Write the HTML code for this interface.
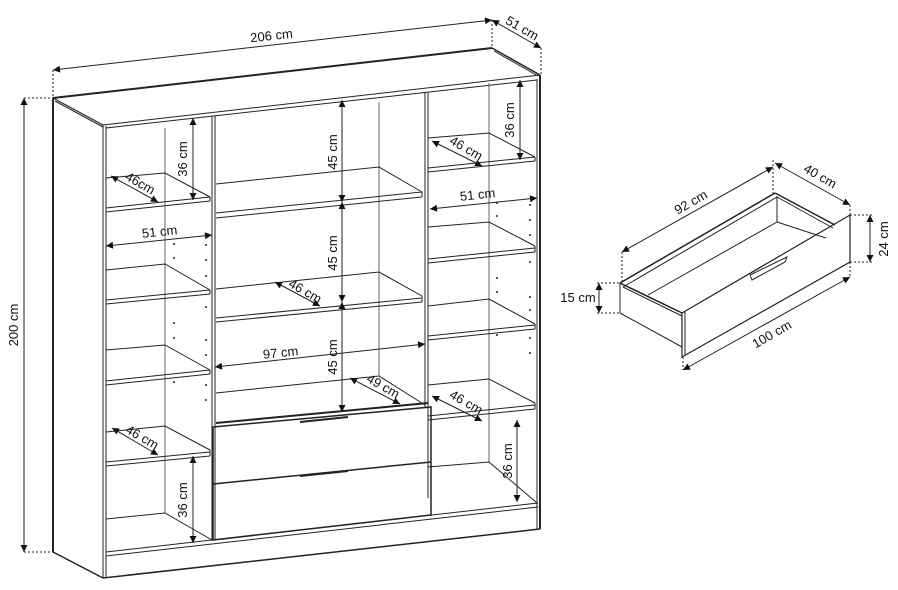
<!DOCTYPE html>
<html><head><meta charset="utf-8"><style>
html,body{margin:0;padding:0;background:#fff;}
svg{display:block;}
text{font-family:"Liberation Sans",sans-serif;font-size:13px;fill:#111;}
</style></head><body>
<svg width="898" height="590" viewBox="0 0 898 590" xmlns="http://www.w3.org/2000/svg">
<defs>
<marker id="a" viewBox="0 0 10 10" refX="10" refY="5" markerWidth="9" markerHeight="7" orient="auto-start-reverse" markerUnits="userSpaceOnUse"><path d="M0,0 L10,5 L0,10 z" fill="#111"/></marker>
</defs>
<g stroke="#222" stroke-width="1" fill="none">
<line x1="53" y1="98" x2="492" y2="48" stroke-width="2"/>
<line x1="492" y1="48" x2="540" y2="75" stroke-width="1.5"/>
<line x1="494" y1="51" x2="538" y2="76"/>
<line x1="53" y1="98" x2="103" y2="125"/>
<line x1="55" y1="101" x2="103" y2="127"/>
<line x1="53" y1="98" x2="53" y2="552" stroke-width="2"/>
<line x1="53" y1="552" x2="103" y2="578" stroke-width="1.5"/>
<line x1="103" y1="125" x2="103" y2="578"/>
<line x1="106" y1="126" x2="106" y2="577"/>
<line x1="103" y1="125" x2="540" y2="75"/>
<line x1="106" y1="128" x2="537" y2="80"/>
<line x1="540" y1="75" x2="540" y2="529" stroke-width="2"/>
<line x1="537" y1="79" x2="537" y2="529"/>
<line x1="103" y1="578" x2="540" y2="529" stroke-width="1.5"/>
<line x1="106" y1="552" x2="538" y2="503"/>
<line x1="106" y1="556" x2="538" y2="507"/>
<line x1="212" y1="116" x2="212" y2="540"/>
<line x1="215" y1="116" x2="215" y2="540"/>
<line x1="425" y1="92" x2="425" y2="407"/>
<line x1="428" y1="92" x2="428" y2="498"/>
<line x1="165" y1="128" x2="165" y2="513" stroke="#666"/>
<line x1="379" y1="102" x2="379" y2="376" stroke="#666"/>
<line x1="489" y1="83" x2="489" y2="462" stroke="#666"/>
<g>
<polyline points="106,178 165,173 210,197"/><line x1="106" y1="208" x2="210" y2="197"/><line x1="106" y1="212" x2="210" y2="201"/><line x1="210" y1="197" x2="210" y2="201"/>
<polyline points="106,270 165,264 210,290"/><line x1="106" y1="300" x2="210" y2="290"/><line x1="106" y1="304" x2="210" y2="294"/><line x1="210" y1="290" x2="210" y2="294"/>
<polyline points="106,350 165,345 210,370"/><line x1="106" y1="381" x2="210" y2="370"/><line x1="106" y1="385" x2="210" y2="374"/><line x1="210" y1="370" x2="210" y2="374"/>
<polyline points="106,432 165,426 210,450"/><line x1="106" y1="462" x2="210" y2="452"/><line x1="106" y1="466" x2="210" y2="456"/><line x1="210" y1="450" x2="210" y2="456"/>
<polyline points="106,519 165,513 212,540"/>
</g>
<g>
<polyline points="428,138 489,133 535,157"/><line x1="428" y1="168" x2="535" y2="157"/><line x1="428" y1="172" x2="535" y2="161"/><line x1="535" y1="157" x2="535" y2="161"/>
<polyline points="428,227 489,222 535,246"/><line x1="428" y1="259" x2="535" y2="248"/><line x1="428" y1="263" x2="535" y2="252"/><line x1="535" y1="246" x2="535" y2="252"/>
<polyline points="428,306 489,299 535,324"/><line x1="428" y1="336" x2="535" y2="325"/><line x1="428" y1="340" x2="535" y2="329"/><line x1="535" y1="324" x2="535" y2="329"/>
<polyline points="428,385 489,379 535,403"/><line x1="428" y1="416" x2="535" y2="405"/><line x1="428" y1="420" x2="535" y2="409"/><line x1="535" y1="403" x2="535" y2="409"/>
<polyline points="428,467 489,462 537,503"/>
</g>
<g>
<polyline points="216,184 379,167 422,192"/><line x1="216" y1="213" x2="422" y2="192"/><line x1="216" y1="218" x2="422" y2="197"/><line x1="422" y1="192" x2="422" y2="197"/>
<polyline points="216,289 379,272 422,296"/><line x1="216" y1="318" x2="422" y2="298"/><line x1="216" y1="322" x2="422" y2="302"/><line x1="422" y1="296" x2="422" y2="302"/>
<polyline points="216,393 379,376 425,405"/>
</g>
<polygon points="213,427 431,407 431,515 213,540" stroke-width="1.5"/>
<line x1="216" y1="423" x2="428" y2="403" stroke-width="2"/>
<line x1="213" y1="484" x2="431" y2="462" stroke-width="1.5"/>
<line x1="300" y1="422" x2="348" y2="417" stroke-width="2"/>
<line x1="300" y1="476" x2="348" y2="471" stroke-width="2"/>
</g>
<g fill="#222">
<circle cx="174" cy="244" r="1"/><circle cx="174" cy="258" r="1"/><circle cx="206" cy="245" r="1"/><circle cx="206" cy="260" r="1"/><circle cx="206" cy="276" r="1"/>
<circle cx="206" cy="307" r="1"/><circle cx="174" cy="323" r="1"/><circle cx="174" cy="338" r="1"/><circle cx="206" cy="340" r="1"/><circle cx="206" cy="355" r="1"/>
<circle cx="174" cy="382" r="1"/><circle cx="206" cy="385" r="1"/><circle cx="206" cy="400" r="1"/>
<circle cx="497" cy="203" r="1"/><circle cx="497" cy="216" r="1"/><circle cx="530" cy="205" r="1"/><circle cx="530" cy="220" r="1"/><circle cx="530" cy="235" r="1"/>
<circle cx="530" cy="262" r="1"/><circle cx="497" cy="278" r="1"/><circle cx="497" cy="292" r="1"/><circle cx="530" cy="297" r="1"/><circle cx="530" cy="310" r="1"/>
<circle cx="497" cy="335" r="1"/><circle cx="530" cy="338" r="1"/><circle cx="530" cy="353" r="1"/>
</g>
<g stroke="#222" stroke-width="1" fill="none">
<line x1="53" y1="70" x2="492" y2="20" marker-start="url(#a)" marker-end="url(#a)"/>
<line x1="492" y1="20" x2="541" y2="48" marker-start="url(#a)" marker-end="url(#a)"/>
<line x1="24" y1="98" x2="24" y2="552" marker-start="url(#a)" marker-end="url(#a)"/>
<line x1="193" y1="118" x2="193" y2="200" marker-start="url(#a)" marker-end="url(#a)"/>
<line x1="111" y1="176" x2="158" y2="202" marker-start="url(#a)" marker-end="url(#a)"/>
<line x1="106" y1="246" x2="212" y2="235" marker-start="url(#a)" marker-end="url(#a)"/>
<line x1="112" y1="428" x2="158" y2="455" marker-start="url(#a)" marker-end="url(#a)"/>
<line x1="193" y1="456" x2="193" y2="543" marker-start="url(#a)" marker-end="url(#a)"/>
<line x1="342" y1="100" x2="342" y2="202" marker-start="url(#a)" marker-end="url(#a)"/>
<line x1="342" y1="202" x2="342" y2="302" marker-start="url(#a)" marker-end="url(#a)"/>
<line x1="342" y1="302" x2="342" y2="412" marker-start="url(#a)" marker-end="url(#a)"/>
<line x1="275" y1="282" x2="320" y2="306" marker-start="url(#a)" marker-end="url(#a)"/>
<line x1="215" y1="367" x2="425" y2="344" marker-start="url(#a)" marker-end="url(#a)"/>
<line x1="350" y1="378" x2="400" y2="404" marker-start="url(#a)" marker-end="url(#a)"/>
<line x1="520" y1="80" x2="520" y2="160" marker-start="url(#a)" marker-end="url(#a)"/>
<line x1="432" y1="141" x2="482" y2="166" marker-start="url(#a)" marker-end="url(#a)"/>
<line x1="430" y1="209" x2="537" y2="198" marker-start="url(#a)" marker-end="url(#a)"/>
<line x1="432" y1="396" x2="482" y2="421" marker-start="url(#a)" marker-end="url(#a)"/>
<line x1="517" y1="420" x2="517" y2="502" marker-start="url(#a)" marker-end="url(#a)"/>
<g stroke-dasharray="2,2">
<line x1="53" y1="70" x2="53" y2="98"/><line x1="492" y1="20" x2="492" y2="48"/><line x1="541" y1="48" x2="541" y2="75"/>
<line x1="24" y1="98" x2="53" y2="98"/><line x1="24" y1="552" x2="53" y2="552"/>
</g>
</g>
<g>
<text x="272" y="40" text-anchor="middle" transform="rotate(-6.5 272 40)">206 cm</text>
<text x="520" y="32" text-anchor="middle" transform="rotate(30 520 32)">51 cm</text>
<text x="18" y="325" text-anchor="middle" transform="rotate(-90 18 325)">200 cm</text>
<text x="187" y="159" text-anchor="middle" transform="rotate(-90 187 159)">36 cm</text>
<text x="138" y="187" text-anchor="middle" transform="rotate(30 138 187)">46cm</text>
<text x="160" y="236" text-anchor="middle" transform="rotate(-6 160 236)">51 cm</text>
<text x="140" y="441" text-anchor="middle" transform="rotate(30 140 441)">46 cm</text>
<text x="187" y="500" text-anchor="middle" transform="rotate(-90 187 500)">36 cm</text>
<text x="337" y="152" text-anchor="middle" transform="rotate(-90 337 152)">45 cm</text>
<text x="337" y="253" text-anchor="middle" transform="rotate(-90 337 253)">45 cm</text>
<text x="337" y="357" text-anchor="middle" transform="rotate(-90 337 357)">45 cm</text>
<text x="303" y="295" text-anchor="middle" transform="rotate(30 303 295)">46 cm</text>
<text x="281" y="357" text-anchor="middle" transform="rotate(-6 281 357)">97 cm</text>
<text x="381" y="390" text-anchor="middle" transform="rotate(30 381 390)">49 cm</text>
<text x="514" y="120" text-anchor="middle" transform="rotate(-90 514 120)">36 cm</text>
<text x="464" y="152" text-anchor="middle" transform="rotate(30 464 152)">46 cm</text>
<text x="478" y="199" text-anchor="middle" transform="rotate(-6 478 199)">51 cm</text>
<text x="464" y="406" text-anchor="middle" transform="rotate(30 464 406)">46 cm</text>
<text x="512" y="461" text-anchor="middle" transform="rotate(-90 512 461)">36 cm</text>
</g>
<g stroke="#222" stroke-width="1" fill="none">
<line x1="620" y1="283" x2="775" y2="193" stroke-width="1.5"/>
<line x1="623" y1="287" x2="777" y2="197"/>
<line x1="775" y1="193" x2="835" y2="225" stroke-width="1.5"/>
<line x1="777" y1="197" x2="833" y2="228"/>
<line x1="777" y1="196" x2="777" y2="222"/>
<line x1="777" y1="222" x2="648" y2="295"/>
<line x1="777" y1="222" x2="826" y2="238"/>
<line x1="620" y1="283" x2="620" y2="313"/>
<line x1="620" y1="283" x2="682" y2="313" stroke-width="1.5"/>
<line x1="623" y1="287" x2="682" y2="316"/>
<line x1="620" y1="313" x2="682" y2="347"/>
<polygon points="682,313 850,215 850,262 682,357" stroke-width="1.2"/>
<line x1="685" y1="312" x2="685" y2="356"/>
<polyline points="750,275 787,257 785,262 752,280 750,275"/>
<line x1="622" y1="252" x2="773" y2="167" marker-start="url(#a)" marker-end="url(#a)"/>
<line x1="775" y1="163" x2="850" y2="205" marker-start="url(#a)" marker-end="url(#a)"/>
<line x1="870" y1="215" x2="870" y2="262" marker-start="url(#a)" marker-end="url(#a)"/>
<line x1="599" y1="283" x2="599" y2="313" marker-start="url(#a)" marker-end="url(#a)"/>
<line x1="683" y1="370" x2="850" y2="277" marker-start="url(#a)" marker-end="url(#a)"/>
<g stroke-dasharray="2,2">
<line x1="622" y1="252" x2="622" y2="283"/><line x1="773" y1="160" x2="773" y2="193"/>
<line x1="850" y1="205" x2="850" y2="215"/><line x1="850" y1="215" x2="872" y2="215"/><line x1="850" y1="262" x2="872" y2="262"/>
<line x1="597" y1="283" x2="620" y2="283"/><line x1="597" y1="313" x2="620" y2="313"/>
<line x1="683" y1="357" x2="683" y2="370"/><line x1="850" y1="262" x2="850" y2="277"/>
</g>
</g>
<g>
<text x="693" y="206" text-anchor="middle" transform="rotate(-30 693 206)">92 cm</text>
<text x="818" y="180" text-anchor="middle" transform="rotate(30 818 180)">40 cm</text>
<text x="888" y="239" text-anchor="middle" transform="rotate(-90 888 239)">24 cm</text>
<text x="578" y="302" text-anchor="middle">15 cm</text>
<text x="774" y="338" text-anchor="middle" transform="rotate(-30 774 338)">100 cm</text>
</g>
</svg>
</body></html>
